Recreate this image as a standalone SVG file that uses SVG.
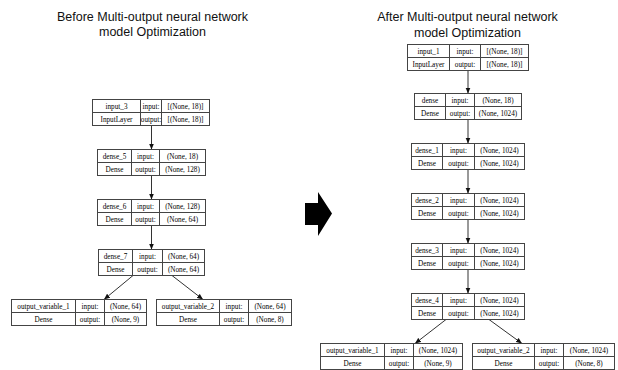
<svg xmlns="http://www.w3.org/2000/svg" width="618" height="370" viewBox="0 0 618 370">
<style>
.bg{fill:#fff}
.box{fill:#fff;stroke:#444;stroke-width:1}
.div{stroke:#444;stroke-width:1;fill:none}
.t{font-family:"Liberation Serif",serif;font-size:7.2px;text-anchor:middle;fill:#000}
.title{font-family:"Liberation Sans",Arial,sans-serif;font-size:12.5px;text-anchor:middle;fill:#111}
.edge{stroke:#333;stroke-width:1;fill:none;marker-end:url(#ah)}
</style>
<defs>
<marker id="ah" markerWidth="6" markerHeight="6" refX="6" refY="3" orient="auto" markerUnits="userSpaceOnUse">
<path d="M0,0.5 L6,3 L0,5.5 Z" fill="#111"/>
</marker>
</defs>
<rect class="bg" x="0" y="0" width="618" height="370"/>

<text class="title" x="152.5" y="21">Before Multi-output neural network</text>
<text class="title" x="152.5" y="36">model Optimization</text>
<text class="title" x="467.5" y="21">After Multi-output neural network</text>
<text class="title" x="467.5" y="37">model Optimization</text>

<g id="connectors">
<path class="edge" d="M151.5,125.5 L151.5,149.5"/>
<path class="edge" d="M151.5,175.5 L151.5,199.5"/>
<path class="edge" d="M151.5,225.5 L151.5,249.5"/>
<path class="edge" d="M133,275.5 L104,299.5"/>
<path class="edge" d="M172,275.5 L203,299.5"/>
<path class="edge" d="M468,70.5 L468,93.5"/>
<path class="edge" d="M468,119.5 L468,143.5"/>
<path class="edge" d="M468,169.5 L468,193.5"/>
<path class="edge" d="M468,219.5 L468,243.5"/>
<path class="edge" d="M468,269.5 L468,293.5"/>
<path class="edge" d="M446,319.5 L415,343.5"/>
<path class="edge" d="M489,319.5 L522,343.5"/>
</g>

<g id="big-arrow">
<polygon points="305,203 318,203 318,192 332,213.5 318,236 318,225 305,225" fill="#000"/>
</g>

<!-- Left diagram -->
<g id="input_3">
<rect class="box" x="92.5" y="99.5" width="117" height="26"/>
<path class="div" d="M92.5,112.5 H209.5 M140.5,99.5 V125.5 M161.5,99.5 V125.5"/>
<text class="t" x="116.5" y="108.5">input_3</text>
<text class="t" x="151" y="108.5">input:</text>
<text class="t" x="185.5" y="108.5">[(None, 18)]</text>
<text class="t" x="116.5" y="121.5">InputLayer</text>
<text class="t" x="151" y="121.5">output:</text>
<text class="t" x="185.5" y="121.5">[(None, 18)]</text>
</g>
<g id="dense_5">
<rect class="box" x="97.5" y="149.5" width="108" height="26"/>
<path class="div" d="M97.5,162.5 H205.5 M131.5,149.5 V175.5 M159.5,149.5 V175.5"/>
<text class="t" x="114.5" y="158.5">dense_5</text>
<text class="t" x="145.5" y="158.5">input:</text>
<text class="t" x="182.5" y="158.5">(None, 18)</text>
<text class="t" x="114.5" y="171.5">Dense</text>
<text class="t" x="145.5" y="171.5">output:</text>
<text class="t" x="182.5" y="171.5">(None, 128)</text>
</g>
<g id="dense_6">
<rect class="box" x="97.5" y="199.5" width="108" height="26"/>
<path class="div" d="M97.5,212.5 H205.5 M131.5,199.5 V225.5 M159.5,199.5 V225.5"/>
<text class="t" x="114.5" y="208.5">dense_6</text>
<text class="t" x="145.5" y="208.5">input:</text>
<text class="t" x="182.5" y="208.5">(None, 128)</text>
<text class="t" x="114.5" y="221.5">Dense</text>
<text class="t" x="145.5" y="221.5">output:</text>
<text class="t" x="182.5" y="221.5">(None, 64)</text>
</g>
<g id="dense_7">
<rect class="box" x="98.5" y="249.5" width="106" height="26"/>
<path class="div" d="M98.5,262.5 H204.5 M132.5,249.5 V275.5 M162.5,249.5 V275.5"/>
<text class="t" x="115.5" y="258.5">dense_7</text>
<text class="t" x="147.5" y="258.5">input:</text>
<text class="t" x="183.5" y="258.5">(None, 64)</text>
<text class="t" x="115.5" y="271.5">Dense</text>
<text class="t" x="147.5" y="271.5">output:</text>
<text class="t" x="183.5" y="271.5">(None, 64)</text>
</g>
<g id="output_variable_1_left">
<rect class="box" x="11.5" y="299.5" width="135" height="26"/>
<path class="div" d="M11.5,312.5 H146.5 M75.5,299.5 V325.5 M104.5,299.5 V325.5"/>
<text class="t" x="43.5" y="308.5">output_variable_1</text>
<text class="t" x="90" y="308.5">input:</text>
<text class="t" x="125.5" y="308.5">(None, 64)</text>
<text class="t" x="43.5" y="321.5">Dense</text>
<text class="t" x="90" y="321.5">output:</text>
<text class="t" x="125.5" y="321.5">(None, 9)</text>
</g>
<g id="output_variable_2_left">
<rect class="box" x="156.5" y="299.5" width="135" height="26"/>
<path class="div" d="M156.5,312.5 H291.5 M219.5,299.5 V325.5 M248.5,299.5 V325.5"/>
<text class="t" x="188" y="308.5">output_variable_2</text>
<text class="t" x="234" y="308.5">input:</text>
<text class="t" x="270" y="308.5">(None, 64)</text>
<text class="t" x="188" y="321.5">Dense</text>
<text class="t" x="234" y="321.5">output:</text>
<text class="t" x="270" y="321.5">(None, 8)</text>
</g>

<!-- Right diagram -->
<g id="input_1">
<rect class="box" x="407.5" y="44.5" width="121" height="26"/>
<path class="div" d="M407.5,57.5 H528.5 M449.5,44.5 V70.5 M480.5,44.5 V70.5"/>
<text class="t" x="428.5" y="53.5">input_1</text>
<text class="t" x="465" y="53.5">input:</text>
<text class="t" x="504.5" y="53.5">[(None, 18)]</text>
<text class="t" x="428.5" y="66.5">InputLayer</text>
<text class="t" x="465" y="66.5">output:</text>
<text class="t" x="504.5" y="66.5">[(None, 18)]</text>
</g>
<g id="dense">
<rect class="box" x="414.5" y="93.5" width="107" height="26"/>
<path class="div" d="M414.5,106.5 H521.5 M445.5,93.5 V119.5 M474.5,93.5 V119.5"/>
<text class="t" x="430" y="102.5">dense</text>
<text class="t" x="460" y="102.5">input:</text>
<text class="t" x="498" y="102.5">(None, 18)</text>
<text class="t" x="430" y="115.5">Dense</text>
<text class="t" x="460" y="115.5">output:</text>
<text class="t" x="498" y="115.5">(None, 1024)</text>
</g>
<g id="dense_1">
<rect class="box" x="411.5" y="143.5" width="113" height="26"/>
<path class="div" d="M411.5,156.5 H524.5 M442.5,143.5 V169.5 M474.5,143.5 V169.5"/>
<text class="t" x="427" y="152.5">dense_1</text>
<text class="t" x="458.5" y="152.5">input:</text>
<text class="t" x="499.5" y="152.5">(None, 1024)</text>
<text class="t" x="427" y="165.5">Dense</text>
<text class="t" x="458.5" y="165.5">output:</text>
<text class="t" x="499.5" y="165.5">(None, 1024)</text>
</g>
<g id="dense_2">
<rect class="box" x="411.5" y="193.5" width="113" height="26"/>
<path class="div" d="M411.5,206.5 H524.5 M442.5,193.5 V219.5 M474.5,193.5 V219.5"/>
<text class="t" x="427" y="202.5">dense_2</text>
<text class="t" x="458.5" y="202.5">input:</text>
<text class="t" x="499.5" y="202.5">(None, 1024)</text>
<text class="t" x="427" y="215.5">Dense</text>
<text class="t" x="458.5" y="215.5">output:</text>
<text class="t" x="499.5" y="215.5">(None, 1024)</text>
</g>
<g id="dense_3">
<rect class="box" x="411.5" y="243.5" width="113" height="26"/>
<path class="div" d="M411.5,256.5 H524.5 M442.5,243.5 V269.5 M474.5,243.5 V269.5"/>
<text class="t" x="427" y="252.5">dense_3</text>
<text class="t" x="458.5" y="252.5">input:</text>
<text class="t" x="499.5" y="252.5">(None, 1024)</text>
<text class="t" x="427" y="265.5">Dense</text>
<text class="t" x="458.5" y="265.5">output:</text>
<text class="t" x="499.5" y="265.5">(None, 1024)</text>
</g>
<g id="dense_4">
<rect class="box" x="411.5" y="293.5" width="113" height="26"/>
<path class="div" d="M411.5,306.5 H524.5 M442.5,293.5 V319.5 M474.5,293.5 V319.5"/>
<text class="t" x="427" y="302.5">dense_4</text>
<text class="t" x="458.5" y="302.5">input:</text>
<text class="t" x="499.5" y="302.5">(None, 1024)</text>
<text class="t" x="427" y="315.5">Dense</text>
<text class="t" x="458.5" y="315.5">output:</text>
<text class="t" x="499.5" y="315.5">(None, 1024)</text>
</g>
<g id="output_variable_1_right">
<rect class="box" x="320.5" y="343.5" width="142" height="26"/>
<path class="div" d="M320.5,356.5 H462.5 M384.5,343.5 V369.5 M413.5,343.5 V369.5"/>
<text class="t" x="352.5" y="352.5">output_variable_1</text>
<text class="t" x="399" y="352.5">input:</text>
<text class="t" x="438" y="352.5">(None, 1024)</text>
<text class="t" x="352.5" y="365.5">Dense</text>
<text class="t" x="399" y="365.5">output:</text>
<text class="t" x="438" y="365.5">(None, 9)</text>
</g>
<g id="output_variable_2_right">
<rect class="box" x="472.5" y="343.5" width="142" height="26"/>
<path class="div" d="M472.5,356.5 H614.5 M534.5,343.5 V369.5 M563.5,343.5 V369.5"/>
<text class="t" x="503.5" y="352.5">output_variable_2</text>
<text class="t" x="549" y="352.5">input:</text>
<text class="t" x="589" y="352.5">(None, 1024)</text>
<text class="t" x="503.5" y="365.5">Dense</text>
<text class="t" x="549" y="365.5">output:</text>
<text class="t" x="589" y="365.5">(None, 8)</text>
</g>
</svg>
